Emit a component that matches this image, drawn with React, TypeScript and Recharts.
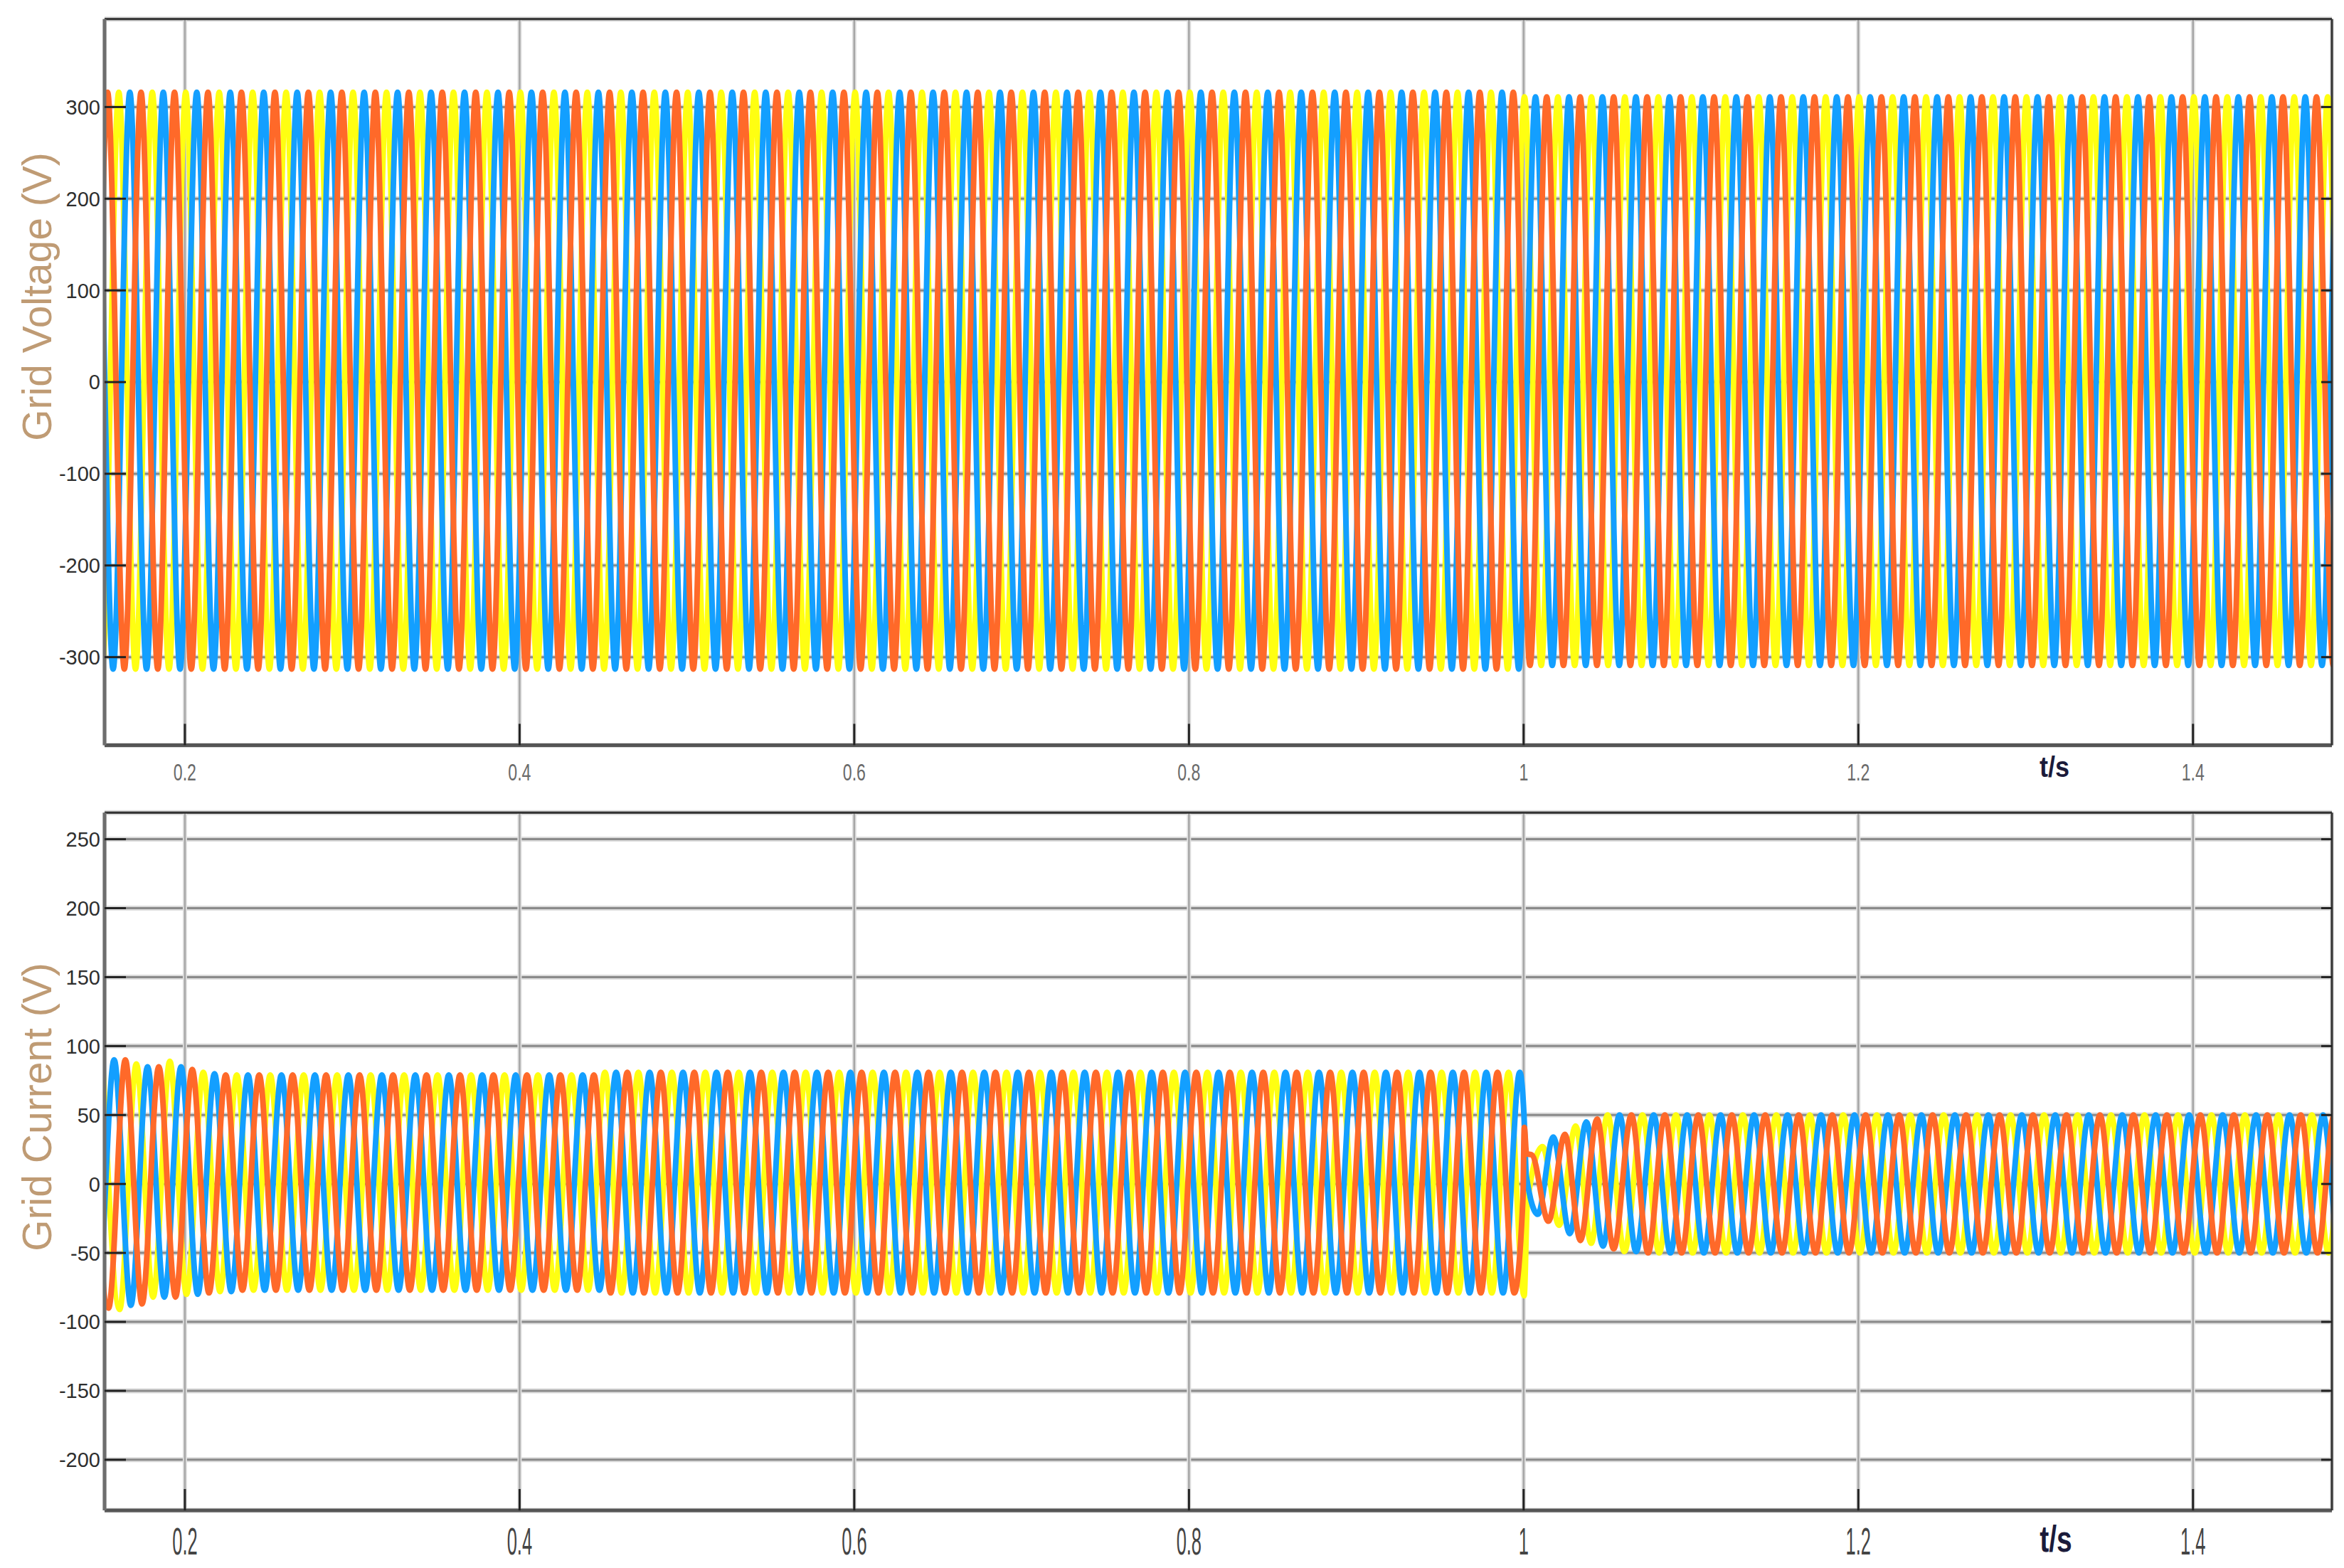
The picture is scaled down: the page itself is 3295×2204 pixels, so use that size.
import { LineChart, Line, XAxis, YAxis, CartesianGrid } from 'recharts';

// 50 Hz: ten cycles between two 0.2 s grid lines
const PERIOD = 0.02;
const HALF = PERIOD / 2;
const T_STEP = 1.0;
const T_DOMAIN: [number, number] = [0.152, 1.483];

const X_TICKS = [0.2, 0.4, 0.6, 0.8, 1, 1.2, 1.4];
const V_TICKS = [-300, -200, -100, 0, 100, 200, 300];
const I_TICKS = [-200, -150, -100, -50, 0, 50, 100, 150, 200, 250];
const V_DOMAIN: [number, number] = [-396, 396];
const I_DOMAIN: [number, number] = [-236.7, 269.3];

// phase order = draw order: yellow, blue, orange (orange ends up on top)
const PHASE_COLORS = ['#ffff11', '#139fff', '#ff6929'];

// grid voltage: time of first positive peak per phase (s)
const V_FIRST_PEAK = [0.1605, 0.1671, 0.1538];
// peak / trough level before and after t = 1 s
const V_PEAK = [316, 311];
const V_TROUGH = [-313, -309];

// grid current: time of first positive peak per phase (s)
const I_FIRST_PEAK = [0.171, 0.1577, 0.1644];
// start-up extrema, one per half cycle, beginning one period before the first peak
const I_START = [
  [86, -91, 87, -82, 89, -80, 81, -78, 79, -77],
  [86, -88, 90, -88, 85, -82, 85, -80, 80, -78],
  [88, -90, 90, -87, 85, -82, 83, -79, 79, -77],
];
// steady levels before the load step
const I_SEG_END = [0.45, 1.0];
const I_SEG_PEAK = [79, 81];
const I_SEG_TROUGH = [-77, -79];
const I_PRE_CUTOFF = 0.9995;
// transient after the step at t = 1 s, [t, A]
const I_STEP: [number, number][][] = [
  [[1.0003, -81], [1.0022, -14], [1.0113, 27], [1.0212, -30], [1.0311, 42], [1.0403, -43], [1.0502, 50], [1.0602, -49]],
  [[1.0002, 50], [1.0016, 6], [1.0085, -22], [1.0177, 34], [1.0276, -36], [1.0375, 45], [1.0474, -45], [1.0573, 50], [1.0672, -49]],
  [[0.9996, -10], [1.0004, 41], [1.0017, 22], [1.005, 21], [1.0148, -27], [1.0247, 36], [1.0339, -41], [1.0439, 47], [1.0538, -47]],
];
const I_PEAK_AFTER = 50;
const I_TROUGH_AFTER = -50;

type Pt = { t: number; v: number };

// peak and trough times of one phase in [from, to)
function halfCycles(firstPeak: number, from: number, to: number) {
  const out: { t: number; up: boolean }[] = [];
  const k0 = Math.ceil((from - firstPeak) / HALF - 1e-9);
  for (let k = k0; firstPeak + k * HALF < to; k++) {
    out.push({ t: firstPeak + k * HALF, up: k % 2 === 0 });
  }
  return out;
}

function voltagePhase(i: number): Pt[] {
  return halfCycles(V_FIRST_PEAK[i], T_DOMAIN[0] - PERIOD, T_DOMAIN[1] + PERIOD).map(({ t, up }) => {
    const s = t < T_STEP ? 0 : 1;
    return { t, v: up ? V_PEAK[s] : V_TROUGH[s] };
  });
}

function currentPhase(i: number): Pt[] {
  const first = I_FIRST_PEAK[i];
  const start = I_START[i].map((v, j) => ({ t: first + (j - 2) * HALF, v }));
  const lastStart = start[start.length - 1].t;
  const steady = halfCycles(first, lastStart + HALF / 2, I_PRE_CUTOFF).map(({ t, up }) => {
    const s = t < I_SEG_END[0] ? 0 : 1;
    return { t, v: up ? I_SEG_PEAK[s] : I_SEG_TROUGH[s] };
  });
  const step = I_STEP[i].map(([t, v]) => ({ t, v }));
  const lastStep = step[step.length - 1].t;
  const after = halfCycles(first, lastStep + HALF / 2, T_DOMAIN[1] + PERIOD).map(({ t, up }) => ({
    t,
    v: up ? I_PEAK_AFTER : I_TROUGH_AFTER,
  }));
  return [...start, ...steady, ...step, ...after];
}

const voltage = [0, 1, 2].map(voltagePhase);
const current = [0, 1, 2].map(currentPhase);

const FONT = "'Liberation Sans', Arial, sans-serif";

function YTick(props: any) {
  const { x, y, payload } = props;
  return (
    <text x={x} y={y} dy="0.36em" textAnchor="end" fill="#2e2e2e" fontSize={29} fontFamily={FONT}>
      {String(payload.value)}
    </text>
  );
}

function makeXTick(fontSize: number, sx: number, color: string) {
  return (props: any) => {
    const { x, y, payload } = props;
    return (
      <g transform={`translate(${x},${y}) scale(${sx},1)`}>
        <text x={0} y={0} dy="0.36em" textAnchor="middle" fill={color} fontSize={fontSize} fontFamily={FONT}>
          {String(payload.value)}
        </text>
      </g>
    );
  };
}

const NoTick = () => <g />;

interface PanelProps {
  series: Pt[][];
  yTicks: number[];
  yDomain: [number, number];
  height: number;
  topH: number;
  bottomH: number;
  xTickMargin: number;
  xTick: (p: any) => any;
}

function Panel({ series, yTicks, yDomain, height, topH, bottomH, xTickMargin, xTick }: PanelProps) {
  return (
    <LineChart width={3295} height={height} margin={{ top: 0, right: 0, bottom: 0, left: 0 }}>
      <CartesianGrid vertical={false} stroke="#dcdcdc" strokeWidth={7} />
      <CartesianGrid vertical={false} stroke="#8a8a8a" strokeWidth={3} />
      <CartesianGrid horizontal={false} stroke="#e0e0e0" strokeWidth={6} />
      <CartesianGrid horizontal={false} stroke="#a6a6a6" strokeWidth={2.5} />
      <XAxis
        dataKey="t"
        type="number"
        domain={T_DOMAIN}
        allowDataOverflow
        ticks={X_TICKS}
        interval={0}
        height={bottomH}
        tickSize={-30}
        tickMargin={xTickMargin}
        tick={xTick}
        tickLine={{ stroke: '#222', strokeWidth: 3 }}
        axisLine={{ stroke: '#555', strokeWidth: 5 }}
      />
      <XAxis
        xAxisId="top"
        orientation="top"
        type="number"
        domain={T_DOMAIN}
        allowDataOverflow
        ticks={X_TICKS}
        interval={0}
        height={topH}
        tickSize={-30}
        tick={NoTick}
        tickLine={{ stroke: '#222', strokeWidth: 3 }}
        axisLine={{ stroke: '#333', strokeWidth: 3 }}
      />
      <YAxis
        type="number"
        domain={yDomain}
        allowDataOverflow
        ticks={yTicks}
        interval={0}
        width={147}
        tickSize={-30}
        tickMargin={36}
        tick={YTick}
        tickLine={{ stroke: '#222', strokeWidth: 3 }}
        axisLine={{ stroke: '#6e6e6e', strokeWidth: 5 }}
      />
      <YAxis
        yAxisId="r"
        orientation="right"
        type="number"
        domain={yDomain}
        allowDataOverflow
        ticks={yTicks}
        interval={0}
        width={17}
        tickSize={-15}
        tick={NoTick}
        tickLine={{ stroke: '#222', strokeWidth: 3 }}
        axisLine={{ stroke: '#333', strokeWidth: 3 }}
      />
      {series.map((data, i) => (
        <Line
          key={i}
          data={data}
          dataKey="v"
          type="monotone"
          stroke={PHASE_COLORS[i]}
          strokeWidth={8}
          dot={false}
          activeDot={false}
          isAnimationActive={false}
        />
      ))}
    </LineChart>
  );
}

const labelStyle = {
  position: 'absolute' as const,
  whiteSpace: 'nowrap' as const,
  lineHeight: 1,
  fontFamily: FONT,
};

export default function App() {
  return (
    <div style={{ position: 'absolute', left: 0, top: 0, width: 3295, height: 2204, background: '#fff', overflow: 'hidden' }}>
      <div style={{ position: 'absolute', left: 0, top: 0 }}>
        <Panel
          series={voltage}
          yTicks={V_TICKS}
          yDomain={V_DOMAIN}
          height={1122}
          topH={26.7}
          bottomH={74.6}
          xTickMargin={67}
          xTick={makeXTick(34, 0.68, '#6a6a6a')}
        />
      </div>
      <div style={{ position: 'absolute', left: 0, top: 1124 }}>
        <Panel
          series={current}
          yTicks={I_TICKS}
          yDomain={I_DOMAIN}
          height={1080}
          topH={18.2}
          bottomH={81}
          xTickMargin={73}
          xTick={makeXTick(53, 0.48, '#444')}
        />
      </div>
      <div style={{ ...labelStyle, left: 52, top: 417, fontSize: 57, color: '#bf9b74', transform: 'translate(-50%, -50%) rotate(-90deg)' }}>
        Grid Voltage (V)
      </div>
      <div style={{ ...labelStyle, left: 52, top: 1556, fontSize: 57, color: '#bf9b74', transform: 'translate(-50%, -50%) rotate(-90deg)' }}>
        Grid Current (V)
      </div>
      <div style={{ ...labelStyle, left: 2888, top: 1078, fontSize: 40, fontWeight: 700, color: '#1b1b3a', transform: 'translate(-50%, -50%) scaleX(0.9)' }}>
        t/s
      </div>
      <div style={{ ...labelStyle, left: 2890, top: 2163, fontSize: 52, fontWeight: 700, color: '#1b1b3a', transform: 'translate(-50%, -50%) scaleX(0.75)' }}>
        t/s
      </div>
    </div>
  );
}
